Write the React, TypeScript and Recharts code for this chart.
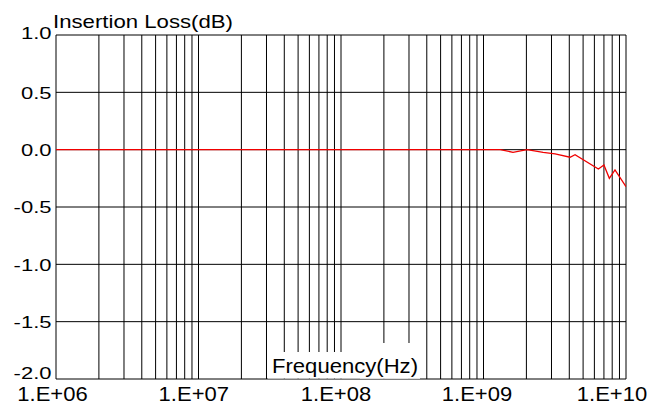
import React from 'react';
import { LineChart, Line, XAxis, YAxis, ReferenceLine } from 'recharts';

// frequency (Hz) / insertion loss (dB)
const freqs = [1e6, 1e7, 1e8, 1e9, 1.31e9, 1.61e9, 2.02e9, 2.62e9, 3.18e9, 4.05e9, 4.39e9, 6.4e9, 7.0e9, 7.64e9, 8.37e9, 1e10];
const loss = [0, 0, 0, 0, 0, -0.023, 0, -0.023, -0.037, -0.066, -0.044, -0.168, -0.133, -0.25, -0.177, -0.323];

const xTicks = [1e6, 1e7, 1e8, 1e9, 1e10];
const xTickLabels = ['1.E+06', '1.E+07', '1.E+08', '1.E+09', '1.E+10'];
const yTicks = [-2, -1.5, -1, -0.5, 0, 0.5, 1];
const decades = [1e6, 1e7, 1e8, 1e9];
const multipliers = [1, 2, 3, 4, 5, 6, 7, 8, 9];

const data = freqs.map((f, i) => ({ freq: f, loss: loss[i] }));
const gridX = decades.flatMap((d) => multipliers.map((m) => d * m)).concat([1e10]);

const FONT = '"Liberation Sans", Arial, sans-serif';

// Arial advance widths, used to stretch text like the original
const CW: Record<string, number> = {
    '0': 0.556, '1': 0.556, '2': 0.556, '5': 0.556, '6': 0.556, '7': 0.556, '8': 0.556, '9': 0.556,
    '.': 0.278, '-': 0.333, '+': 0.584, E: 0.667,
};
const textWidth = (s: string) => s.split('').reduce((a, c) => a + (CW[c] ?? 0.556), 0) * 22;

const xShift = [-3.5, -4.7, -5, -6.5, -14];

const XTick = (props: any) => {
    const { x, y, index } = props;
    const label = xTickLabels[index];
    return (
        <text
            x={x + xShift[index]}
            y={y + 21.7}
            textAnchor="middle"
            fontSize={20}
            fontFamily={FONT}
            fill="#000"
            textLength={textWidth(label)}
            lengthAdjust="spacingAndGlyphs"
        >
            {label}
        </text>
    );
};

const YTick = (props: any) => {
    const { x, y, payload } = props;
    const v = payload.value as number;
    const label = v.toFixed(1);
    let dy = 6.3;
    if (v === 1) dy = 4;
    if (v === -2) dy = 0;
    return (
        <text
            x={x - 4.5}
            y={y + dy}
            textAnchor="end"
            fontSize={17.2}
            fontFamily={FONT}
            fill="#000"
            textLength={textWidth(label)}
            lengthAdjust="spacingAndGlyphs"
        >
            {label}
        </text>
    );
};

export default function App() {
    return (
        <div style={{ position: 'fixed', left: 0, top: 0, width: 666, height: 406, background: '#fff' }}>
            <LineChart width={666} height={406} data={data} margin={{ top: 35, right: 40, left: 0, bottom: 0 }}>
                {yTicks.map((v) => (
                    <ReferenceLine key={`h-${v}`} y={v} stroke="#000" strokeWidth={1} />
                ))}
                {gridX.map((f) => (
                    <ReferenceLine key={`v-${f}`} x={f} stroke="#000" strokeWidth={1} />
                ))}
                <XAxis
                    dataKey="freq"
                    type="number"
                    scale="log"
                    domain={[1e6, 1e10]}
                    ticks={xTicks}
                    interval={0}
                    allowDataOverflow
                    axisLine={false}
                    tickLine={false}
                    tickSize={0}
                    tickMargin={0}
                    height={27}
                    tick={<XTick />}
                />
                <YAxis
                    type="number"
                    domain={[-2, 1]}
                    ticks={yTicks}
                    interval={0}
                    allowDataOverflow
                    axisLine={false}
                    tickLine={false}
                    tickSize={0}
                    tickMargin={0}
                    width={56}
                    tick={<YTick />}
                />
                <Line
                    type="linear"
                    dataKey="loss"
                    stroke="#f00000"
                    strokeWidth={1.3}
                    dot={false}
                    isAnimationActive={false}
                />
            </LineChart>
            <svg width={666} height={406} style={{ position: 'absolute', left: 0, top: 0, pointerEvents: 'none' }}>
                <text
                    x={53}
                    y={28.3}
                    fontSize={19}
                    fontFamily={FONT}
                    fill="#000"
                    textLength={180}
                    lengthAdjust="spacingAndGlyphs"
                >
                    Insertion Loss(dB)
                </text>
                <rect x={268} y={352} width={152} height={26.5} fill="#fff" />
                <rect x={360} y={343} width={60} height={35.5} fill="#fff" />
                <text
                    x={272}
                    y={372.7}
                    fontSize={20.5}
                    fontFamily={FONT}
                    fill="#000"
                    textLength={146}
                    lengthAdjust="spacingAndGlyphs"
                >
                    Frequency(Hz)
                </text>
            </svg>
        </div>
    );
}
